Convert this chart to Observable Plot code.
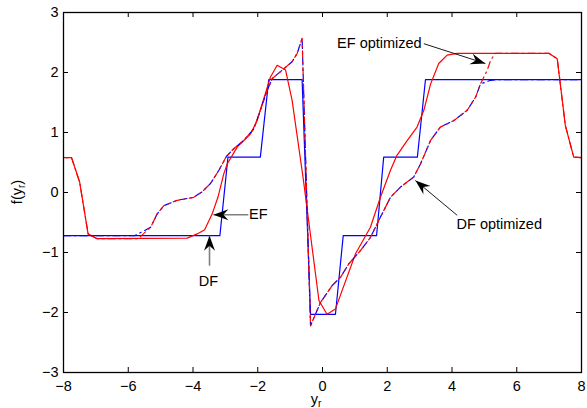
<!DOCTYPE html>
<html><head><meta charset="utf-8">
<script src="https://cdn.jsdelivr.net/npm/d3@7"></script>
<script src="https://cdn.jsdelivr.net/npm/@observablehq/plot@0.6"></script>
<style>html,body{margin:0;padding:0;background:#fff;}</style>
</head><body><div id="chart"></div>
<script>
// tick labels
const xTicks = [-8, -6, -4, -2, 0, 2, 4, 6, 8];
const yTicks = [-3, -2, -1, 0, 1, 2, 3];

// DF (blue solid)
const dfX = [-8, -3.17, -2.92, -1.92, -1.66, -0.63, -0.37, 0.4, 0.64, 1.67, 1.89, 2.93, 3.18, 8];
const dfY = [-0.72, -0.72, 0.59, 0.59, 1.88, 1.88, -2.03, -2.03, -0.72, -0.72, 0.59, 0.59, 1.88, 1.88];

// EF (red solid)
const efX = [-8, -7.75, -7.5, -7.24, -6.96, -4.18, -3.87, -3.64, -3.41, -3.23, -3.05, -2.94, -2.63, -2.22, -2.02, -1.61, -1.4, -1.14, -0.94, -0.6, -0.11, 0.14, 0.4, 1.02, 1.48, 1.79, 2.1, 2.3, 2.62, 2.92, 3.13, 3.34, 3.59, 3.85, 4.16, 6.99, 7.25, 7.5, 7.76, 8];
const efY = [0.58, 0.58, 0.17, -0.69, -0.77, -0.76, -0.69, -0.62, -0.36, -0.08, 0.31, 0.48, 0.76, 0.98, 1.2, 1.92, 2.12, 2.04, 1.54, 0.25, -1.8, -2.03, -1.94, -1.02, -0.58, -0.08, 0.37, 0.62, 0.87, 1.09, 1.37, 1.81, 2.15, 2.29, 2.32, 2.32, 2.23, 1.12, 0.59, 0.58];

// optimized curves: shared middle part
const optMidX = [-5.31, -5.11, -4.9, -4.49, -3.98, -3.72, -3.46, -3.2, -2.97, -2.74, -2.43, -2.12, -1.92, -1.71, -1.55, -1.24, -0.94, -0.78, -0.63, -0.37, -0.06, 0.3, 0.56, 0.81, 1.17, 1.48, 1.79, 2.1, 2.41, 2.82, 3.03, 3.34, 3.64, 4.06, 4.47, 4.73, 4.88];
const optMidY = [-0.58, -0.36, -0.22, -0.13, -0.08, 0.01, 0.15, 0.37, 0.6, 0.73, 0.87, 1.06, 1.37, 1.7, 1.9, 2.04, 2.18, 2.32, 2.57, -2.22, -1.83, -1.55, -1.41, -1.19, -0.97, -0.75, -0.41, -0.08, 0.09, 0.26, 0.48, 0.87, 1.09, 1.2, 1.37, 1.59, 1.81];

// DF optimized (blue dash-dot) ends
const dfOptHeadX = [-8, -5.8];
const dfOptHeadY = [-0.72, -0.72];
const dfOptTailX = [5.19, 5.4, 8];
const dfOptTailY = [1.87, 1.88, 1.88];

// EF optimized (red dash-dot) ends
const efOptHeadX = [-8, -7.75, -7.5, -7.24, -6.96, -5.7];
const efOptHeadY = [0.58, 0.58, 0.17, -0.69, -0.77, -0.77];
const efOptTailX = [5.09, 5.19, 5.34, 6.99, 7.25, 7.5, 7.76, 8];
const efOptTailY = [2.04, 2.2, 2.32, 2.32, 2.23, 1.12, 0.59, 0.58];

// annotations
const annoText = ["EF", "DF", "EF optimized", "DF optimized"];
const annoX = [-2.27, -3.52, 0.45, 4.14];
const annoY = [-0.36, -1.48, 2.48, -0.53];
const arrowTailX = [-2.29, -3.49, 3.13, 4.16];
const arrowTailY = [-0.37, -1.22, 2.48, -0.38];
const arrowTipX = [-3.37, -3.49, 5.03, 2.87];
const arrowTipY = [-0.37, -0.72, 2.15, 0.2];

const zip = (xs, ys) => xs.map((x, i) => ({x, y: ys[i]}));
const dfData = zip(dfX, dfY);
const efData = zip(efX, efY);
const dfOptData = zip([...dfOptHeadX, ...optMidX, ...dfOptTailX], [...dfOptHeadY, ...optMidY, ...dfOptTailY]);
const efOptData = zip([...efOptHeadX, ...optMidX, ...efOptTailX], [...efOptHeadY, ...optMidY, ...efOptTailY]);

const W = 587, H = 408;
const M = {top: 12, right: 6, bottom: 36, left: 63};
const pw = W - M.left - M.right, ph = H - M.top - M.bottom;
const sx = pw / 16, sy = ph / 6;
const FONT = "'Liberation Sans', Arial, Helvetica, sans-serif";
const fmt = d => d < 0 ? "\u2212" + (-d) : String(d);

function headSymbol(i) {
  const dx = (arrowTipX[i] - arrowTailX[i]) * sx;
  const dy = -(arrowTipY[i] - arrowTailY[i]) * sy;
  const len = Math.hypot(dx, dy);
  const ux = dx / len, uy = dy / len, nx = -uy, ny = ux;
  const L = 15, Wd = 5.5, N = 10;
  return {
    draw(ctx) {
      ctx.moveTo(0, 0);
      ctx.lineTo(-L * ux + Wd * nx, -L * uy + Wd * ny);
      ctx.lineTo(-N * ux, -N * uy);
      ctx.lineTo(-L * ux - Wd * nx, -L * uy - Wd * ny);
      ctx.closePath();
    }
  };
}

const idx = annoText.map((_, i) => i);
const dash = "7,4,1.5,4";
const linkOpts = {x1: i => arrowTailX[i], y1: i => arrowTailY[i], x2: i => arrowTipX[i], y2: i => arrowTipY[i]};
const textOpts = {x: i => annoX[i], y: i => annoY[i], text: i => annoText[i], fill: "#000", fontSize: 14.5};

const svg = Plot.plot({
  width: W, height: H,
  marginTop: M.top, marginRight: M.right, marginBottom: M.bottom, marginLeft: M.left,
  style: {fontFamily: FONT, fontSize: "14.5px", background: "#fff", color: "#000"},
  x: {domain: [-8, 8], label: null},
  y: {domain: [-3, 3], label: null},
  marks: [
    Plot.line(dfData, {x: "x", y: "y", stroke: "#0000ff", strokeWidth: 1.2}),
    Plot.line(efData, {x: "x", y: "y", stroke: "#ff0000", strokeWidth: 1.2}),
    Plot.line(dfOptData, {x: "x", y: "y", stroke: "#0000ff", strokeWidth: 1.2, strokeDasharray: dash}),
    Plot.line(efOptData, {x: "x", y: "y", stroke: "#ff0000", strokeWidth: 1.2, strokeDasharray: dash, strokeDashoffset: 8}),
    // arrows
    Plot.link(idx.filter(i => i < 2), {...linkOpts, stroke: "#808080", strokeWidth: 1.6}),
    Plot.link(idx.filter(i => i >= 2), {...linkOpts, stroke: "#000", strokeWidth: 0.9}),
    ...idx.map(i => Plot.dot([i], {x: i => arrowTipX[i], y: i => arrowTipY[i], symbol: headSymbol(i), fill: "#000", stroke: "none"})),
    Plot.text(idx.filter(i => i !== 1), {...textOpts, textAnchor: "start"}),
    Plot.text(idx.filter(i => i === 1), {...textOpts, textAnchor: "middle"}),
    // frame and inward ticks
    Plot.frame({stroke: "#000", strokeWidth: 1.3}),
    Plot.ruleX(xTicks, {x: d => d, insetTop: ph - 5, stroke: "#000", strokeWidth: 1}),
    Plot.ruleX(xTicks, {x: d => d, insetBottom: ph - 5, stroke: "#000", strokeWidth: 1}),
    Plot.ruleY(yTicks, {y: d => d, insetRight: pw - 5, stroke: "#000", strokeWidth: 1}),
    Plot.ruleY(yTicks, {y: d => d, insetLeft: pw - 5, stroke: "#000", strokeWidth: 1}),
    Plot.axisX(xTicks, {tickSize: 0, tickPadding: 8, label: null, fontSize: 14.5, fill: "#000", tickFormat: fmt}),
    Plot.axisY(yTicks, {tickSize: 0, tickPadding: 5, label: null, fontSize: 14.5, fill: "#000", tickFormat: fmt})
  ]
});

const s = d3.select(svg);
// x label y_r
const xl = s.append("text").attr("x", 316).attr("y", 404)
  .attr("font-family", FONT).attr("font-size", 14.5).attr("fill", "#000");
xl.append("tspan").text("y");
xl.append("tspan").attr("font-size", 10).attr("dy", 3).text("r");
// y label f(y_r)
const yl = s.append("text").attr("transform", "translate(22,192) rotate(-90)")
  .attr("text-anchor", "middle")
  .attr("font-family", FONT).attr("font-size", 14.5).attr("fill", "#000");
yl.append("tspan").text("f(y");
yl.append("tspan").attr("font-size", 10).attr("dy", 3).text("r");
yl.append("tspan").attr("dy", -3).text(")");

document.getElementById("chart").appendChild(svg);
</script>
</body></html>
